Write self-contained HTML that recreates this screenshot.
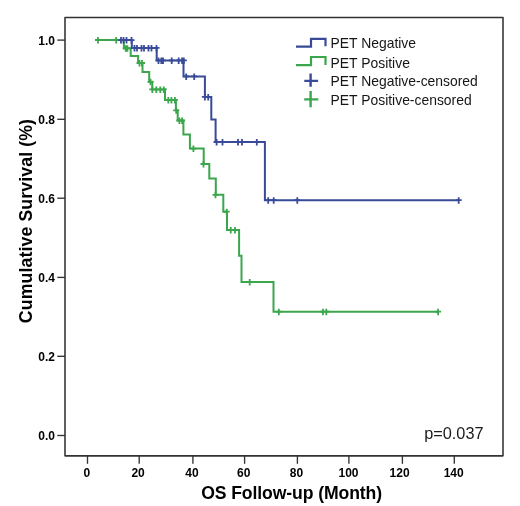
<!DOCTYPE html>
<html><head><meta charset="utf-8"><style>
html,body{margin:0;padding:0;background:#fff;}
body{width:520px;height:506px;overflow:hidden;}
svg{display:block;filter:blur(0.3px);}
text{font-family:"Liberation Sans",sans-serif;fill:#111;}
.tk{font-size:12px;font-weight:bold;fill:#000;}
.lg{font-size:13.9px;fill:#161616;}
.pv{font-size:16.3px;fill:#1a1a1a;}
.ti{font-size:17.7px;font-weight:bold;fill:#000;}
.tx{font-size:17.6px;letter-spacing:-0.1px;}
.ty{letter-spacing:0.12px;}
</style></head><body>
<svg width="520" height="506" viewBox="0 0 520 506">
<rect x="65" y="17.5" width="438" height="438.35" fill="none" stroke="#333333" stroke-width="1.55" stroke-linejoin="round"/>
<line x1="57.3" y1="40.1" x2="65" y2="40.1" stroke="#333333" stroke-width="1.35"/>
<text x="54.9" y="44.5" class="tk" text-anchor="end">1.0</text>
<line x1="57.3" y1="119.3" x2="65" y2="119.3" stroke="#333333" stroke-width="1.35"/>
<text x="54.9" y="123.7" class="tk" text-anchor="end">0.8</text>
<line x1="57.3" y1="198.2" x2="65" y2="198.2" stroke="#333333" stroke-width="1.35"/>
<text x="54.9" y="202.6" class="tk" text-anchor="end">0.6</text>
<line x1="57.3" y1="277.4" x2="65" y2="277.4" stroke="#333333" stroke-width="1.35"/>
<text x="54.9" y="281.8" class="tk" text-anchor="end">0.4</text>
<line x1="57.3" y1="356.3" x2="65" y2="356.3" stroke="#333333" stroke-width="1.35"/>
<text x="54.9" y="360.7" class="tk" text-anchor="end">0.2</text>
<line x1="57.3" y1="435.5" x2="65" y2="435.5" stroke="#333333" stroke-width="1.35"/>
<text x="54.9" y="439.9" class="tk" text-anchor="end">0.0</text>
<line x1="87.5" y1="455.8" x2="87.5" y2="463.8" stroke="#333333" stroke-width="1.35"/>
<text x="86.90" y="476.5" class="tk" text-anchor="middle">0</text>
<line x1="139.2" y1="455.8" x2="139.2" y2="463.8" stroke="#333333" stroke-width="1.35"/>
<text x="138.10" y="476.5" class="tk" text-anchor="middle">20</text>
<line x1="192.9" y1="455.8" x2="192.9" y2="463.8" stroke="#333333" stroke-width="1.35"/>
<text x="191.90" y="476.5" class="tk" text-anchor="middle">40</text>
<line x1="244.6" y1="455.8" x2="244.6" y2="463.8" stroke="#333333" stroke-width="1.35"/>
<text x="243.75" y="476.5" class="tk" text-anchor="middle">60</text>
<line x1="297.4" y1="455.8" x2="297.4" y2="463.8" stroke="#333333" stroke-width="1.35"/>
<text x="296.50" y="476.5" class="tk" text-anchor="middle">80</text>
<line x1="348.9" y1="455.8" x2="348.9" y2="463.8" stroke="#333333" stroke-width="1.35"/>
<text x="348.50" y="476.5" class="tk" text-anchor="middle">100</text>
<line x1="402.4" y1="455.8" x2="402.4" y2="463.8" stroke="#333333" stroke-width="1.35"/>
<text x="399.60" y="476.5" class="tk" text-anchor="middle">120</text>
<line x1="454.3" y1="455.8" x2="454.3" y2="463.8" stroke="#333333" stroke-width="1.35"/>
<text x="453.70" y="476.5" class="tk" text-anchor="middle">140</text>
<path d="M95,40.1 H123.9 V48.3 H130.7 V56.0 H138.1 V63.0 H142.5 V71.9 H149.2 V81.8 H152.3 V89.4 H165 V99.9 H175.9 V110.3 H177.7 V120.5 H183.4 V134.4 H189.9 V148.6 H203.7 V164 H209.3 V178.6 H215.8 V194.8 H223.3 V211.7 H227.0 V230 H239.1 V255.7 H241.5 V282 H273.5 V311.7 H438.1" fill="none" stroke="#3ba64c" stroke-width="2.0"/>
<path d="M95.0,40.1 h6.0 M98,37.1 v6.5 M113.2,40.1 h6.0 M116.2,37.1 v6.5 M122.7,48.3 h6.0 M125.7,45.3 v6.5 M124.4,48.3 h6.0 M127.4,45.3 v6.5 M136.5,63 h6.0 M139.5,60.0 v6.5 M139.0,63 h6.0 M142,60.0 v6.5 M147.5,81.8 h6.0 M150.5,78.8 v6.5 M149.3,89.4 h6.0 M152.3,86.4 v6.5 M153.3,89.4 h6.0 M156.3,86.4 v6.5 M157.3,89.4 h6.0 M160.3,86.4 v6.5 M160.8,89.4 h6.0 M163.8,86.4 v6.5 M165.3,99.9 h6.0 M168.3,96.9 v6.5 M168.4,99.9 h6.0 M171.4,96.9 v6.5 M171.9,99.9 h6.0 M174.9,96.9 v6.5 M173.2,110.3 h6.0 M176.2,107.3 v6.5 M176.4,120.5 h6.0 M179.4,117.5 v6.5 M179.1,120.5 h6.0 M182.1,117.5 v6.5 M190.4,148.6 h6.0 M193.4,145.6 v6.5 M200.5,164 h6.0 M203.5,161.0 v6.5 M212.5,194.8 h6.0 M215.5,191.8 v6.5 M223.7,211.7 h6.0 M226.7,208.7 v6.5 M227.7,230 h6.0 M230.7,227.0 v6.5 M232.0,230 h6.0 M235,227.0 v6.5 M246.7,282 h6.0 M249.7,279.0 v6.5 M275.8,311.7 h6.0 M278.8,308.7 v6.5 M320.0,311.7 h6.0 M323,308.7 v6.5 M323.3,311.7 h6.0 M326.3,308.7 v6.5 M435.1,311.7 h6.0 M438.1,308.7 v6.5" fill="none" stroke="#3ba64c" stroke-width="1.8"/>
<path d="M120.3,40.1 H131.8 V47.9 H156.7 V60.4 H183.5 V76.4 H204.9 V96.9 H211.3 V119.4 H215.6 V142 H264.9 V200.2 H458.7" fill="none" stroke="#394b98" stroke-width="2.0"/>
<path d="M118.0,40.1 h6.0 M121,37.1 v6.5 M120.5,40.1 h6.0 M123.5,37.1 v6.5 M123.5,40.1 h6.0 M126.5,37.1 v6.5 M128.5,40.1 h6.0 M131.5,37.1 v6.5 M131.5,47.9 h6.0 M134.5,44.9 v6.5 M134.0,47.9 h6.0 M137,44.9 v6.5 M138.5,47.9 h6.0 M141.5,44.9 v6.5 M141.0,47.9 h6.0 M144,44.9 v6.5 M145.5,47.9 h6.0 M148.5,44.9 v6.5 M148.5,47.9 h6.0 M151.5,44.9 v6.5 M153.5,47.9 h6.0 M156.5,44.9 v6.5 M155.5,60.4 h6.0 M158.5,57.4 v6.5 M158.3,60.4 h6.0 M161.3,57.4 v6.5 M160.0,60.4 h6.0 M163,57.4 v6.5 M168.7,60.4 h6.0 M171.7,57.4 v6.5 M175.7,60.4 h6.0 M178.7,57.4 v6.5 M179.1,60.4 h6.0 M182.1,57.4 v6.5 M180.8,60.4 h6.0 M183.8,57.4 v6.5 M183.2,76.4 h6.0 M186.2,73.4 v6.5 M191.2,76.4 h6.0 M194.2,73.4 v6.5 M201.9,96.9 h6.0 M204.9,93.9 v6.5 M205.2,96.9 h6.0 M208.2,93.9 v6.5 M213.6,142 h6.0 M216.6,139.0 v6.5 M219.5,142 h6.0 M222.5,139.0 v6.5 M235.0,142 h6.0 M238,139.0 v6.5 M239.0,142 h6.0 M242,139.0 v6.5 M253.8,142 h6.0 M256.8,139.0 v6.5 M265.2,200.2 h6.0 M268.2,197.2 v6.5 M270.7,200.2 h6.0 M273.7,197.2 v6.5 M294.3,200.2 h6.0 M297.3,197.2 v6.5 M455.7,200.2 h6.0 M458.7,197.2 v6.5" fill="none" stroke="#394b98" stroke-width="1.8"/>
<path d="M296,46.6 H311 V38.8 H325.5 V46.3" fill="none" stroke="#394b98" stroke-width="2.2"/>
<path d="M296,65.2 H311 V57 H325.5 V64.9" fill="none" stroke="#3ba64c" stroke-width="2.2"/>
<path d="M304.3,80.9 H318.1 M310.6,73.5 V86.7" fill="none" stroke="#394b98" stroke-width="2.4"/>
<path d="M304.2,99.4 H318.3 M310.6,90.9 V107.2" fill="none" stroke="#3ba64c" stroke-width="2.4"/>
<text x="330.6" y="48.2" class="lg">PET Negative</text>
<text x="330.6" y="68.1" class="lg">PET Positive</text>
<text x="330.6" y="86.3" class="lg">PET Negative-censored</text>
<text x="330.6" y="104.6" class="lg">PET Positive-censored</text>
<text x="424.2" y="438.5" class="pv">p=0.037</text>
<text x="291.6" y="499.1" class="ti tx" text-anchor="middle">OS Follow-up (Month)</text>
<text transform="translate(31.8,221.0) rotate(-90)" class="ti ty" text-anchor="middle">Cumulative Survival (%)</text>
</svg>
</body></html>
